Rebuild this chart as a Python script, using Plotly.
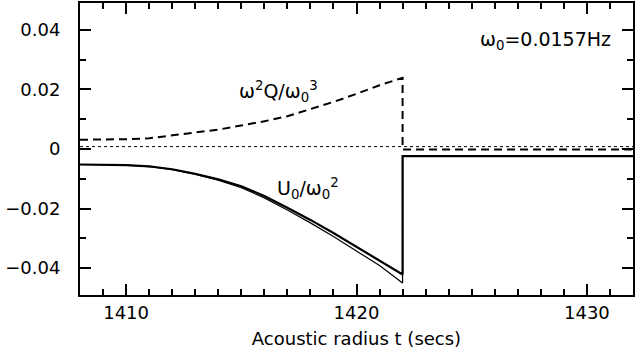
import plotly.graph_objects as go

# radius samples (secs) for the curves inside the discontinuity
t = [1408, 1409, 1410, 1411, 1412, 1413, 1414, 1415,
     1416, 1417, 1418, 1419, 1420, 1421, 1422]

# w^2 Q / w0^3 (dashed)
q_term = [0.0031, 0.0031, 0.0033, 0.0036, 0.0045, 0.0055, 0.0065, 0.0079,
          0.0093, 0.0110, 0.0133, 0.0158, 0.0185, 0.0214, 0.0239]
# U0 / w0^2 (two solid curves)
u_upper = [-0.0052, -0.0052, -0.0054, -0.0058, -0.0068, -0.0083, -0.0102, -0.0125,
           -0.0158, -0.0197, -0.0238, -0.0282, -0.0328, -0.0374, -0.0421]
u_lower = [-0.0052, -0.0052, -0.0054, -0.0059, -0.0069, -0.0085, -0.0105, -0.0130,
           -0.0164, -0.0205, -0.0248, -0.0294, -0.0342, -0.0391, -0.0450]

# outside the step
t_out = [1422, 1432]
q_out = [-0.0002, -0.0002]
u_out = [-0.0024, -0.0024]
zero_level = [0.0008, 0.0008]
t_full = [1408, 1432]

FONT = 'DejaVu Sans, sans-serif'

fig = go.Figure()

fig.add_trace(go.Scatter(
    x=t_full, y=zero_level, mode='lines',
    line=dict(color='black', width=1, dash='dot')))

fig.add_trace(go.Scatter(
    x=t + t_out, y=q_term + q_out, mode='lines',
    line=dict(color='black', width=2, dash='8px,5px')))

fig.add_trace(go.Scatter(
    x=t + t_out, y=u_lower + u_out, mode='lines',
    line=dict(color='black', width=1.2)))

fig.add_trace(go.Scatter(
    x=t + t_out, y=u_upper + u_out, mode='lines',
    line=dict(color='black', width=2.2)))

fig.add_annotation(x=1414.8, y=0.0192, xanchor='left', yanchor='middle',
                   text='ω<sup>2</sup>Q/ω<sub>0</sub><sup>3</sup>',
                   showarrow=False, font=dict(size=19, family=FONT, color='black'))
fig.add_annotation(x=1416.45, y=-0.0131, xanchor='left', yanchor='middle',
                   text='U<sub>0</sub>/ω<sub>0</sub><sup>2</sup>',
                   showarrow=False, font=dict(size=19, family=FONT, color='black'))
fig.add_annotation(x=1431.15, y=0.0364, xanchor='right', yanchor='middle',
                   text='ω<sub>0</sub>=0.0157Hz',
                   showarrow=False, font=dict(size=19, family=FONT, color='black'))

axis_common = dict(
    showgrid=False, zeroline=False, showline=True, linecolor='black', linewidth=2,
    mirror='ticks', ticks='inside', ticklen=11, tickwidth=1.5, tickcolor='black',
    tickfont=dict(size=18, family=FONT, color='black'),
)

fig.update_xaxes(
    range=[1408, 1432], tickvals=[1410, 1420, 1430],
    minor=dict(dtick=1, ticks='inside', ticklen=6, tickwidth=1.5, tickcolor='black'),
    title=dict(text='Acoustic radius t (secs)', standoff=11,
               font=dict(size=18, family=FONT, color='black')),
    ticklabelstandoff=0,
    **axis_common)

fig.update_yaxes(
    range=[-0.049, 0.049], tickvals=[-0.04, -0.02, 0, 0.02, 0.04],
    ticktext=['−0.04', '−0.02', '0', '0.02', '0.04'],
    minor=dict(dtick=0.01, ticks='inside', ticklen=6, tickwidth=1.5, tickcolor='black'),
    ticklabelstandoff=14,
    **axis_common)

fig.update_layout(
    width=636, height=354,
    margin=dict(l=80, r=1, t=1, b=59),
    plot_bgcolor='white', paper_bgcolor='white',
    showlegend=False,
)

fig.write_html("out.html", config={'displayModeBar': False},
               post_script="document.body.style.margin='0';")
